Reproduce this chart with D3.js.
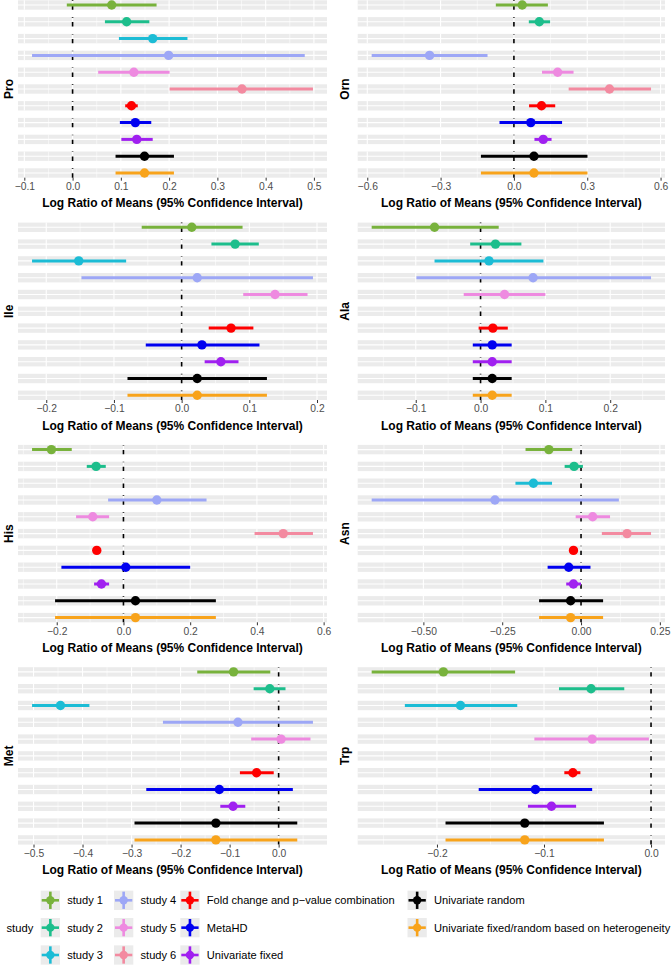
<!DOCTYPE html>
<html><head><meta charset="utf-8">
<script src="https://cdn.jsdelivr.net/npm/d3@7/dist/d3.min.js"></script>
<style>
body{margin:0;background:#fff;}
svg{display:block;font-family:"Liberation Sans",Arial,Helvetica,sans-serif;}
</style>
</head><body>
<svg id="chart" width="672" height="966"></svg>
<script>
// ---------------- DATA ----------------
const studies = ["study 1","study 2","study 3","study 4","study 5","study 6",
  "Fold change and p\u2212value combination","MetaHD","Univariate fixed",
  "Univariate random","Univariate fixed/random based on heterogeneity"];
const studyColors = ["#78B23C","#1DBE8C","#1CBCD5","#9DA7F6","#EE8AE0","#F38AA0",
  "#FF0000","#0000F0","#A020F0","#000000","#F8A31B"];
const metabolites = ["Pro","Orn","Ile","Ala","His","Asn","Met","Trp"];

const est_Pro = [0.081,0.112,0.166,0.199,0.127,0.351,0.122,0.130,0.133,0.149,0.149];
const lo_Pro  = [-0.012,0.067,0.096,-0.084,0.053,0.201,0.109,0.098,0.101,0.089,0.089];
const hi_Pro  = [0.174,0.159,0.238,0.481,0.201,0.498,0.135,0.163,0.166,0.210,0.210];

const est_Orn = [0.034,0.104,null,-0.345,0.179,0.391,0.113,0.069,0.120,0.082,0.082];
const lo_Orn  = [-0.074,0.061,null,-0.582,0.115,0.224,0.062,-0.059,0.084,-0.135,-0.135];
const hi_Orn  = [0.139,0.148,null,-0.108,0.244,0.561,0.169,0.197,0.154,0.301,0.301];

const est_Ile = [0.015,0.079,-0.152,0.023,0.138,null,0.073,0.030,0.058,0.023,0.023];
const lo_Ile  = [-0.059,0.044,-0.221,-0.148,0.091,null,0.040,-0.053,0.034,-0.080,-0.080];
const hi_Ile  = [0.090,0.114,-0.082,0.194,0.186,null,0.106,0.115,0.084,0.126,0.126];

const est_Ala = [-0.071,0.023,0.013,0.081,0.037,null,0.019,0.018,0.018,0.018,0.018];
const lo_Ala  = [-0.168,-0.016,-0.071,-0.099,-0.026,null,-0.003,-0.012,-0.012,-0.012,-0.012];
const hi_Ala  = [0.028,0.063,0.097,0.263,0.100,null,0.042,0.048,0.048,0.048,0.048];

const est_His = [-0.216,-0.082,null,0.100,-0.092,0.479,-0.080,0.007,-0.066,0.036,0.036];
const lo_His  = [-0.274,-0.110,null,-0.046,-0.142,0.393,-0.081,-0.186,-0.088,-0.205,-0.205];
const hi_His  = [-0.155,-0.053,null,0.249,-0.043,0.568,-0.079,0.200,-0.043,0.277,0.277];

const est_Asn = [-0.102,-0.022,-0.151,-0.273,0.037,0.146,-0.024,-0.039,-0.024,-0.033,-0.033];
const lo_Asn  = [-0.176,-0.052,-0.208,-0.664,-0.017,0.066,-0.026,-0.106,-0.047,-0.133,-0.133];
const hi_Asn  = [-0.028,0.006,-0.092,0.120,0.092,0.222,-0.022,0.030,0.000,0.070,0.070];

const est_Met = [-0.092,-0.018,-0.445,-0.083,0.005,null,-0.045,-0.121,-0.093,-0.128,-0.128];
const lo_Met  = [-0.166,-0.051,-0.503,-0.236,-0.056,null,-0.079,-0.270,-0.119,-0.294,-0.294];
const hi_Met  = [-0.017,0.014,-0.386,0.070,0.065,null,-0.010,0.029,-0.068,0.038,0.038];

const est_Trp = [-0.194,-0.056,-0.178,null,-0.055,null,-0.073,-0.108,-0.093,-0.118,-0.118];
const lo_Trp  = [-0.261,-0.086,-0.230,null,-0.109,null,-0.081,-0.161,-0.115,-0.192,-0.192];
const hi_Trp  = [-0.127,-0.025,-0.125,null,-0.002,null,-0.066,-0.055,-0.070,-0.044,-0.044];

const ticks_Pro = [-0.1,0,0.1,0.2,0.3,0.4,0.5];
const tickLabels_Pro = ["\u22120.1","0.0","0.1","0.2","0.3","0.4","0.5"];
const ticks_Orn = [-0.6,-0.3,0,0.3,0.6];
const tickLabels_Orn = ["\u22120.6","\u22120.3","0.0","0.3","0.6"];
const ticks_Ile = [-0.2,-0.1,0,0.1,0.2];
const tickLabels_Ile = ["\u22120.2","\u22120.1","0.0","0.1","0.2"];
const ticks_Ala = [-0.1,0,0.1,0.2];
const tickLabels_Ala = ["\u22120.1","0.0","0.1","0.2"];
const ticks_His = [-0.2,0,0.2,0.4,0.6];
const tickLabels_His = ["\u22120.2","0.0","0.2","0.4","0.6"];
const ticks_Asn = [-0.5,-0.25,0,0.25];
const tickLabels_Asn = ["\u22120.50","\u22120.25","0.00","0.25"];
const ticks_Met = [-0.5,-0.4,-0.3,-0.2,-0.1,0];
const tickLabels_Met = ["\u22120.5","\u22120.4","\u22120.3","\u22120.2","\u22120.1","0.0"];
const ticks_Trp = [-0.2,-0.1,0];
const tickLabels_Trp = ["\u22120.2","\u22120.1","0.0"];

const xTitle = "Log Ratio of Means (95% Confidence Interval)";
const legendTitle = "study";

// table built from the arrays
const table = {
  Pro:{est:est_Pro,lo:lo_Pro,hi:hi_Pro,ticks:ticks_Pro,labels:tickLabels_Pro},
  Orn:{est:est_Orn,lo:lo_Orn,hi:hi_Orn,ticks:ticks_Orn,labels:tickLabels_Orn},
  Ile:{est:est_Ile,lo:lo_Ile,hi:hi_Ile,ticks:ticks_Ile,labels:tickLabels_Ile},
  Ala:{est:est_Ala,lo:lo_Ala,hi:hi_Ala,ticks:ticks_Ala,labels:tickLabels_Ala},
  His:{est:est_His,lo:lo_His,hi:hi_His,ticks:ticks_His,labels:tickLabels_His},
  Asn:{est:est_Asn,lo:lo_Asn,hi:hi_Asn,ticks:ticks_Asn,labels:tickLabels_Asn},
  Met:{est:est_Met,lo:lo_Met,hi:hi_Met,ticks:ticks_Met,labels:tickLabels_Met},
  Trp:{est:est_Trp,lo:lo_Trp,hi:hi_Trp,ticks:ticks_Trp,labels:tickLabels_Trp}
};

// ---------------- LAYOUT ----------------
const svg = d3.select("#chart");
const colRanges = [[18,327],[357.7,665]];
const groupTop0 = 0.3, groupStep = 222.3;
const bandH = 9.4, rowStep = 16.8;
const bgGrey = "#EBEBEB";

metabolites.forEach((m,i)=>{
  const d = table[m];
  const col = i%2, row = Math.floor(i/2);
  const top = groupTop0 + row*groupStep;
  const bottom = top + bandH + rowStep*(studies.length-1);
  const [x0,x1] = colRanges[col];

  const vals = [0];
  d.est.forEach((e,k)=>{ if(e!==null){ vals.push(e,d.lo[k],d.hi[k]); } });
  const ext = d3.extent(vals);
  const pad = (ext[1]-ext[0])*0.05;
  const x = d3.scaleLinear().domain([ext[0]-pad, ext[1]+pad]).range([x0,x1]);
  const y = d3.scalePoint().domain(studies).range([top+bandH/2, bottom-bandH/2]);

  const majors = d.ticks;
  const step = majors[1]-majors[0];
  const minors = [];
  for(let k=-1;k<majors.length;k++){
    const v = majors[0] + (k+0.5)*step;
    if(v>=x.domain()[0] && v<=x.domain()[1]) minors.push(v);
  }

  const g = svg.append("g");
  studies.forEach((s,k)=>{
    const cy = y(s);
    const r = g.append("g");
    r.append("rect").attr("x",x0).attr("y",cy-bandH/2).attr("width",x1-x0).attr("height",bandH).attr("fill",bgGrey);
    r.selectAll("line.mn").data(minors).join("line")
      .attr("x1",v=>x(v)).attr("x2",v=>x(v)).attr("y1",cy-bandH/2).attr("y2",cy+bandH/2)
      .attr("stroke","#fff").attr("stroke-width",0.55);
    r.selectAll("line.mj").data(majors).join("line")
      .attr("x1",v=>x(v)).attr("x2",v=>x(v)).attr("y1",cy-bandH/2).attr("y2",cy+bandH/2)
      .attr("stroke","#fff").attr("stroke-width",1.1);
    r.append("line").attr("x1",x0).attr("x2",x1).attr("y1",cy).attr("y2",cy)
      .attr("stroke","#fff").attr("stroke-width",1.1);
    r.append("line").attr("x1",x(0)).attr("x2",x(0)).attr("y1",cy+bandH/2).attr("y2",cy-bandH/2)
      .attr("stroke","#000").attr("stroke-width",1.6).attr("stroke-dasharray","4.4,4.4");
  });

  studies.forEach((s,k)=>{
    if(d.est[k]===null) return;
    const cy = y(s);
    g.append("line").attr("x1",x(d.lo[k])).attr("x2",x(d.hi[k])).attr("y1",cy).attr("y2",cy)
      .attr("stroke",studyColors[k]).attr("stroke-width",3);
    g.append("circle").attr("cx",x(d.est[k])).attr("cy",cy).attr("r",4.7).attr("fill",studyColors[k]);
  });

  const ax = g.append("g").attr("transform",`translate(0,${bottom})`)
    .call(d3.axisBottom(x).tickValues(majors).tickFormat((v,k)=>d.labels[k]).tickSize(3).tickPadding(2));
  ax.select(".domain").remove();
  ax.selectAll(".tick line").attr("stroke","#333333").attr("stroke-width",1);
  ax.selectAll(".tick text").attr("fill","#4D4D4D").style("font-size","10.3px")
    .style("font-family","'Liberation Sans',Arial,sans-serif");

  g.append("text").attr("x",(x0+x1)/2).attr("y",bottom+25.5).attr("text-anchor","middle")
    .attr("dominant-baseline","central").style("font-size","12px").style("font-weight","bold")
    .attr("fill","#000").text(xTitle);

  const ty = (top+bottom)/2;
  const tx = (col===0?13:349);
  g.append("text").attr("transform",`translate(${tx},${ty}) rotate(-90)`).attr("text-anchor","middle")
    .style("font-size","12px").style("font-weight","bold").attr("fill","#000").text(m);
});

// ---------------- LEGEND ----------------
const legRows = 3, keySize = 19.3, legRow0 = 900.3, legRowStep = 27.35;
const colKeyX = [40.7, 114, 180.3, 407.5];
const lg = svg.append("g");
lg.append("text").attr("x",6.5).attr("y",legRow0+legRowStep).attr("dominant-baseline","central")
  .style("font-size","11.2px").attr("fill","#000").text(legendTitle);
studies.forEach((s,k)=>{
  const c = Math.floor(k/legRows), r = k%legRows;
  const kx = colKeyX[c], cy = legRow0 + r*legRowStep;
  const cx = kx + keySize/2;
  lg.append("rect").attr("x",kx).attr("y",cy-keySize/2).attr("width",keySize).attr("height",keySize).attr("fill","#EBEBEB");
  lg.append("line").attr("x1",kx+1).attr("x2",kx+keySize-1).attr("y1",cy).attr("y2",cy)
    .attr("stroke",studyColors[k]).attr("stroke-width",2.6);
  lg.append("line").attr("x1",cx).attr("x2",cx).attr("y1",cy-keySize/2+1).attr("y2",cy+keySize/2-1)
    .attr("stroke",studyColors[k]).attr("stroke-width",2.6);
  lg.append("circle").attr("cx",cx).attr("cy",cy).attr("r",4.2).attr("fill",studyColors[k]);
  lg.append("text").attr("x",kx+26.5).attr("y",cy).attr("dominant-baseline","central")
    .style("font-size","11.1px").attr("fill","#000").text(s);
});
</script>
</body></html>
